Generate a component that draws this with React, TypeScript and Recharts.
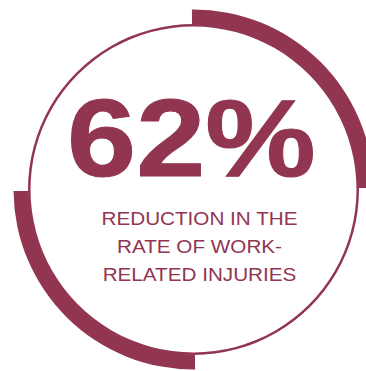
import React from 'react';
import { PieChart, Pie, Cell, Label } from 'recharts';

const segmentNames = ['Highlight A', 'Gap A', 'Highlight B', 'Gap B'];
const segmentValues = [25, 25, 25, 25];
const segmentFilled = [true, false, true, false];
const ringValues = [100];
const headline = '62%';
const captionLines = ['REDUCTION IN THE', 'RATE OF WORK-', 'RELATED INJURIES'];

const MAROON = '#913551';
const W = 366;
const H = 371;
const CX = 193.5;
const CY = 189.5;

const segmentData = segmentNames.map((name, i) => ({ name, value: segmentValues[i], filled: segmentFilled[i] }));
const ringData = ringValues.map((value, i) => ({ name: `ring${i}`, value }));

const renderText = () => (
  <g>
    <text
      x={0}
      y={0}
      transform={`translate(191.5,176) scale(1.13,1)`}
      textAnchor="middle"
      fontFamily="'Liberation Sans', Arial, Helvetica, sans-serif"
      fontWeight={700}
      fontSize={110}
      fill={MAROON}
      stroke={MAROON}
      strokeWidth={1}
    >
      {headline}
    </text>
    {captionLines.map((line, i) => (
      <text
        key={line}
        x={0}
        y={0}
        transform={`translate(199.5,${225 + i * 28}) scale(1.1,1)`}
        textAnchor="middle"
        fontFamily="'Liberation Sans', Arial, Helvetica, sans-serif"
        fontSize={18.8}
        fill={MAROON}
      >
        {line}
      </text>
    ))}
  </g>
);

export default function App() {
  return (
    <div style={{ position: 'absolute', left: 0, top: 0, width: W, height: H, overflow: 'hidden', background: '#fff' }}>
      <PieChart width={W} height={H} margin={{ top: 0, right: 0, bottom: 0, left: 0 }}>
        <Pie
          data={ringData}
          dataKey="value"
          cx={CX}
          cy={CY}
          innerRadius={163}
          outerRadius={165.5}
          startAngle={90}
          endAngle={-270}
          stroke="none"
          isAnimationActive={false}
        >
          {ringData.map((d) => (
            <Cell key={d.name} fill={MAROON} />
          ))}
          <Label position="center" content={renderText} />
        </Pie>
        <Pie
          data={segmentData}
          dataKey="value"
          cx={CX}
          cy={CY}
          innerRadius={165}
          outerRadius={180}
          startAngle={90.5}
          endAngle={-269.5}
          stroke="none"
          isAnimationActive={false}
        >
          {segmentData.map((d) => (
            <Cell key={d.name} fill={d.filled ? MAROON : 'transparent'} />
          ))}
        </Pie>
      </PieChart>
    </div>
  );
}
